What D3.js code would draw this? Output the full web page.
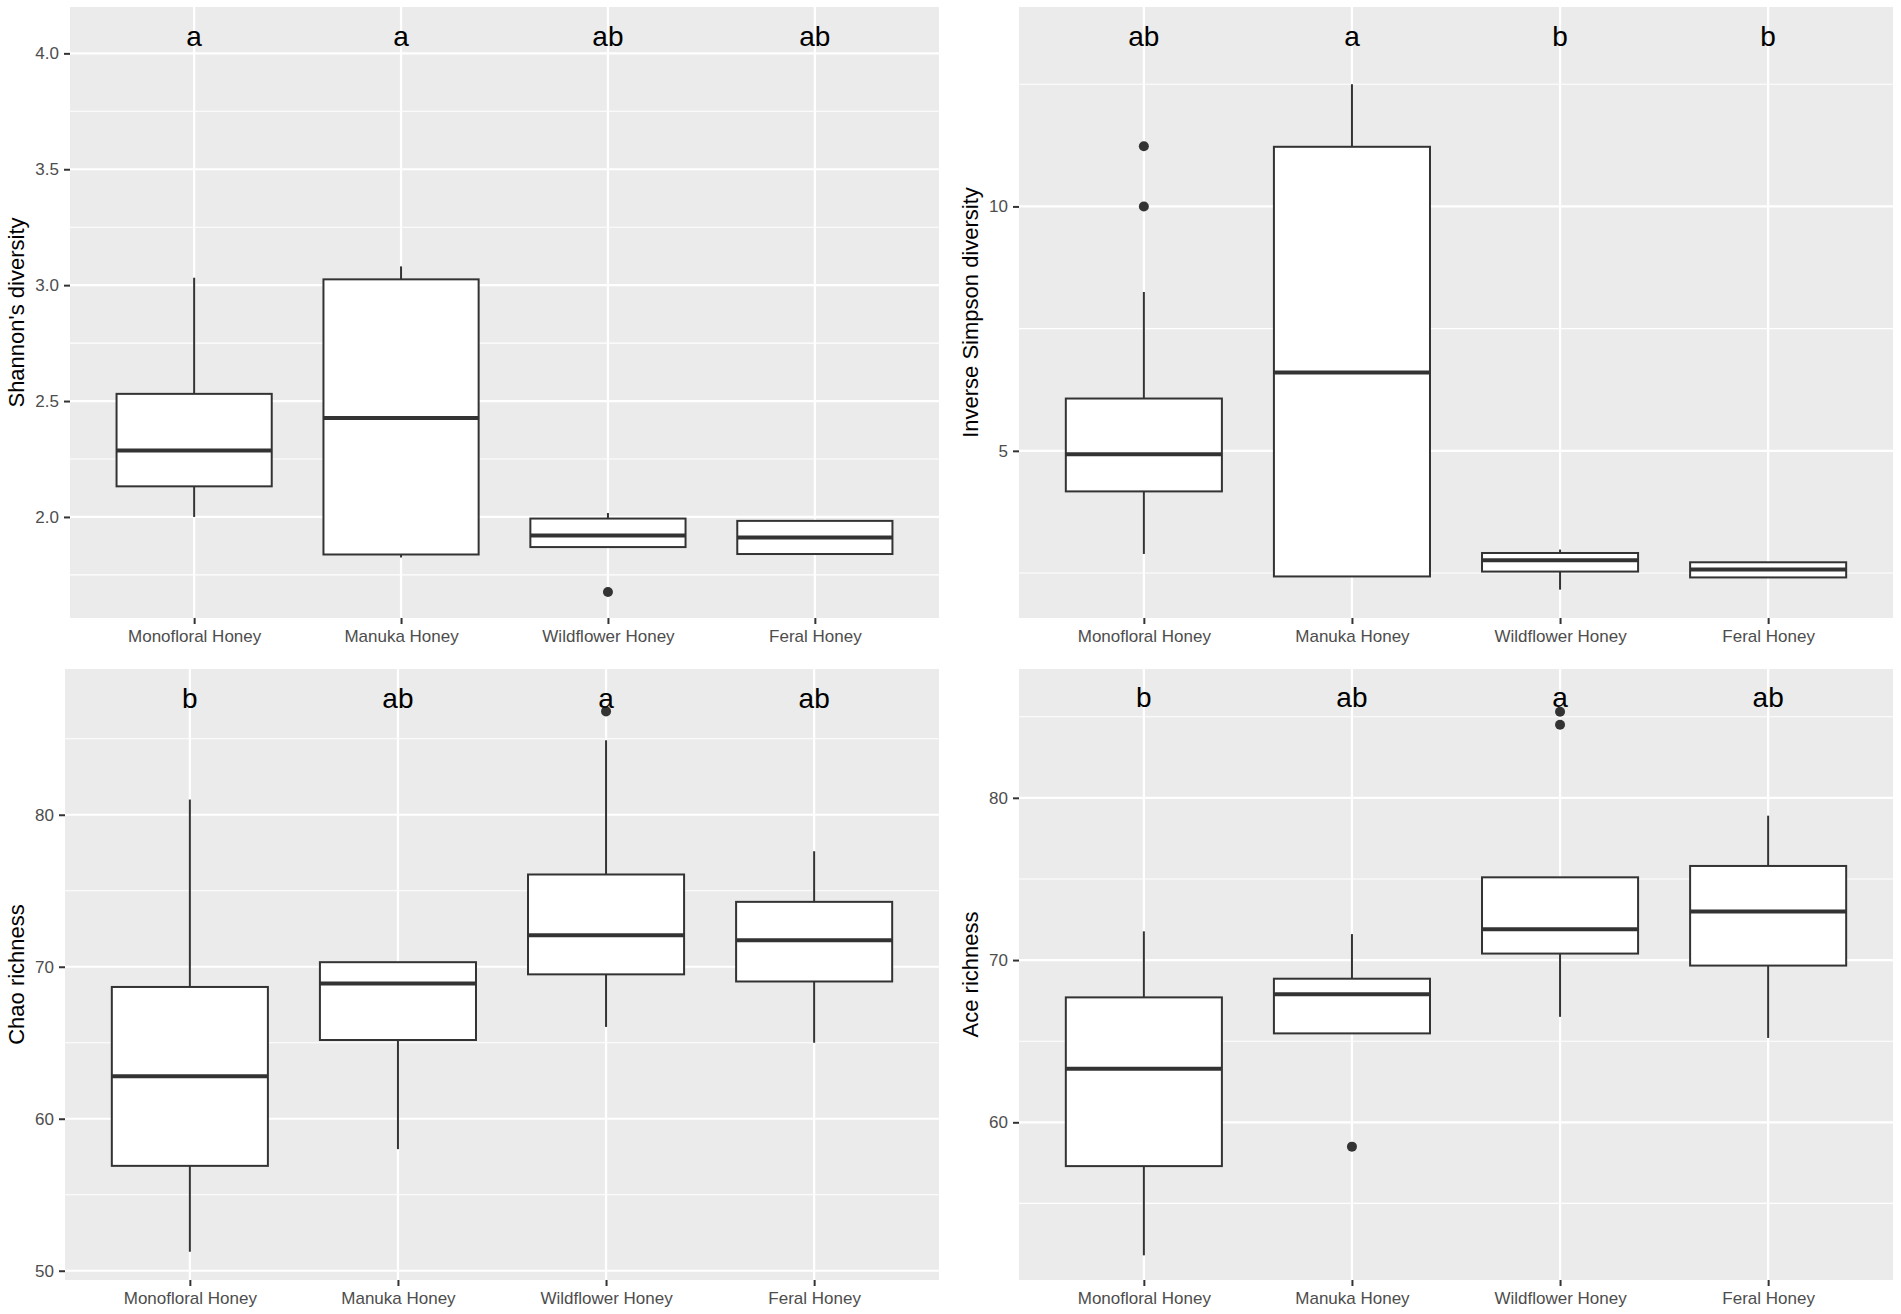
<!DOCTYPE html>
<html lang="en">

<head>
    <meta charset="UTF-8">
    <title>Honey diversity boxplots</title>
    <script src="https://d3js.org/d3.v7.min.js"></script>
    <style>
        body { margin: 0; background: #fff; }
        text { font-family: "Liberation Sans", Arial, Helvetica, sans-serif; }
    </style>
</head>

<body>
    <script>
        const categories = ["Monofloral Honey", "Manuka Honey", "Wildflower Honey", "Feral Honey"];

        // each box: [lower whisker, q1, median, q3, upper whisker]
        const shannonBoxes = [
            [2.00, 2.132, 2.287, 2.531, 3.032],
            [1.825, 1.838, 2.427, 3.025, 3.081],
            [1.87, 1.87, 1.92, 1.993, 2.017],
            [1.84, 1.84, 1.911, 1.983, 1.983]
        ];
        const shannonOutliers = [[], [], [1.676], []];
        const shannonLetters = ["a", "a", "ab", "ab"];
        const shannonTicks = [2.0, 2.5, 3.0, 3.5, 4.0];

        const simpsonBoxes = [
            [2.89, 4.17, 4.93, 6.07, 8.25],
            [2.43, 2.43, 6.60, 11.22, 12.5],
            [2.16, 2.53, 2.76, 2.91, 2.98],
            [2.41, 2.41, 2.57, 2.72, 2.72]
        ];
        const simpsonOutliers = [[11.23, 10.0], [], [], []];
        const simpsonLetters = ["ab", "a", "b", "b"];
        const simpsonTicks = [5, 10];

        const chaoBoxes = [
            [51.25, 56.9, 62.8, 68.67, 81.0],
            [58.0, 65.18, 68.9, 70.3, 70.3],
            [66.04, 69.5, 72.08, 76.07, 84.9],
            [65.0, 69.03, 71.75, 74.27, 77.6]
        ];
        const chaoOutliers = [[], [], [86.8], []];
        const chaoLetters = ["b", "ab", "a", "ab"];
        const chaoTicks = [50, 60, 70, 80];

        const aceBoxes = [
            [51.8, 57.3, 63.3, 67.7, 71.77],
            [65.48, 65.48, 67.9, 68.85, 71.6],
            [66.5, 70.4, 71.9, 75.1, 75.1],
            [65.2, 69.66, 73.0, 75.8, 78.9]
        ];
        const aceOutliers = [[], [58.5], [85.3, 84.5], []];
        const aceLetters = ["b", "ab", "a", "ab"];
        const aceTicks = [60, 70, 80];

        const panels = [
            { title: "Shannon's diversity", boxes: shannonBoxes, outliers: shannonOutliers, letters: shannonLetters,
              ticks: shannonTicks, fmt: d3.format(".1f"), domain: [1.564, 4.200], letterY: 4.075,
              x0: 70, x1: 939, y0: 7, y1: 618, titleX: 16 },
            { title: "Inverse Simpson diversity", boxes: simpsonBoxes, outliers: simpsonOutliers, letters: simpsonLetters,
              ticks: simpsonTicks, fmt: d3.format("d"), domain: [1.58, 14.08], letterY: 13.49,
              x0: 1019, x1: 1893, y0: 7, y1: 618, titleX: 970 },
            { title: "Chao richness", boxes: chaoBoxes, outliers: chaoOutliers, letters: chaoLetters,
              ticks: chaoTicks, fmt: d3.format("d"), domain: [49.39, 89.59], letterY: 87.7,
              x0: 65, x1: 939, y0: 669, y1: 1280, titleX: 16 },
            { title: "Ace richness", boxes: aceBoxes, outliers: aceOutliers, letters: aceLetters,
              ticks: aceTicks, fmt: d3.format("d"), domain: [50.28, 87.94], letterY: 86.2,
              x0: 1019, x1: 1893, y0: 669, y1: 1280, titleX: 970 }
        ];

        const svg = d3.select("body")
            .append("svg")
                .attr("width", 1901)
                .attr("height", 1314);

        svg.append("rect")
            .attr("width", 1901)
            .attr("height", 1314)
            .attr("fill", "#fff");

        panels.forEach(p => {
            const g = svg.append("g");

            const x = d3.scalePoint()
                .domain(categories)
                .range([p.x0, p.x1])
                .padding(0.6);

            const y = d3.scaleLinear()
                .domain(p.domain)
                .range([p.y1, p.y0]);

            const boxW = x.step() * 0.75;

            // panel background
            g.append("rect")
                .attr("x", p.x0)
                .attr("y", p.y0)
                .attr("width", p.x1 - p.x0)
                .attr("height", p.y1 - p.y0)
                .attr("fill", "#EBEBEB");

            // minor grid: halfway between major breaks
            const step = p.ticks[1] - p.ticks[0];
            const minor = d3.range(p.ticks[0] - step / 2, p.domain[1], step)
                .filter(v => v > p.domain[0] && v < p.domain[1]);

            g.selectAll(".minor")
                .data(minor)
                .enter()
                .append("line")
                .attr("x1", p.x0)
                .attr("x2", p.x1)
                .attr("y1", d => y(d))
                .attr("y2", d => y(d))
                .attr("stroke", "#fff")
                .attr("stroke-width", 1.1);

            g.selectAll(".major")
                .data(p.ticks)
                .enter()
                .append("line")
                .attr("x1", p.x0)
                .attr("x2", p.x1)
                .attr("y1", d => y(d))
                .attr("y2", d => y(d))
                .attr("stroke", "#fff")
                .attr("stroke-width", 2.2);

            g.selectAll(".vgrid")
                .data(categories)
                .enter()
                .append("line")
                .attr("x1", d => x(d))
                .attr("x2", d => x(d))
                .attr("y1", p.y0)
                .attr("y2", p.y1)
                .attr("stroke", "#fff")
                .attr("stroke-width", 2.2);

            // boxes
            const box = g.selectAll(".box")
                .data(p.boxes)
                .enter()
                .append("g");

            box.append("line")
                .attr("x1", (d, i) => x(categories[i]))
                .attr("x2", (d, i) => x(categories[i]))
                .attr("y1", d => y(d[0]))
                .attr("y2", d => y(d[1]))
                .attr("stroke", "#333")
                .attr("stroke-width", 2);

            box.append("line")
                .attr("x1", (d, i) => x(categories[i]))
                .attr("x2", (d, i) => x(categories[i]))
                .attr("y1", d => y(d[3]))
                .attr("y2", d => y(d[4]))
                .attr("stroke", "#333")
                .attr("stroke-width", 2);

            box.append("rect")
                .attr("x", (d, i) => x(categories[i]) - boxW / 2)
                .attr("y", d => y(d[3]))
                .attr("width", boxW)
                .attr("height", d => y(d[1]) - y(d[3]))
                .attr("fill", "#fff")
                .attr("stroke", "#333")
                .attr("stroke-width", 2);

            box.append("line")
                .attr("x1", (d, i) => x(categories[i]) - boxW / 2)
                .attr("x2", (d, i) => x(categories[i]) + boxW / 2)
                .attr("y1", d => y(d[2]))
                .attr("y2", d => y(d[2]))
                .attr("stroke", "#333")
                .attr("stroke-width", 4);

            // outliers
            const pts = p.outliers.flatMap((vals, i) => vals.map(v => ({ cat: categories[i], v })));
            g.selectAll(".out")
                .data(pts)
                .enter()
                .append("circle")
                .attr("cx", d => x(d.cat))
                .attr("cy", d => y(d.v))
                .attr("r", 5)
                .attr("fill", "#333");

            // significance letters
            g.selectAll(".letter")
                .data(p.letters)
                .enter()
                .append("text")
                .attr("x", (d, i) => x(categories[i]))
                .attr("y", y(p.letterY))
                .attr("dy", "0.35em")
                .attr("text-anchor", "middle")
                .style("font-size", "28px")
                .style("fill", "#000")
                .text(d => d);

            // axes
            const ya = g.append("g")
                .attr("transform", `translate(${p.x0},0)`)
                .call(d3.axisLeft(y).tickValues(p.ticks).tickFormat(p.fmt).tickSize(6).tickPadding(5));

            const xa = g.append("g")
                .attr("transform", `translate(0,${p.y1})`)
                .call(d3.axisBottom(x).tickSize(6).tickPadding(6));

            [ya, xa].forEach(a => {
                a.select(".domain").remove();
                a.selectAll(".tick line").attr("stroke", "#333").attr("stroke-width", 2);
                a.selectAll(".tick text")
                    .style("font-size", "17px")
                    .style("font-family", "'Liberation Sans', Arial, sans-serif")
                    .attr("fill", "#4D4D4D");
            });

            g.append("text")
                .attr("transform", `translate(${p.titleX},${(p.y0 + p.y1) / 2}) rotate(-90)`)
                .attr("text-anchor", "middle")
                .attr("dy", "0.35em")
                .style("font-size", "22px")
                .style("fill", "#000")
                .text(p.title);
        });
    </script>
</body>

</html>
